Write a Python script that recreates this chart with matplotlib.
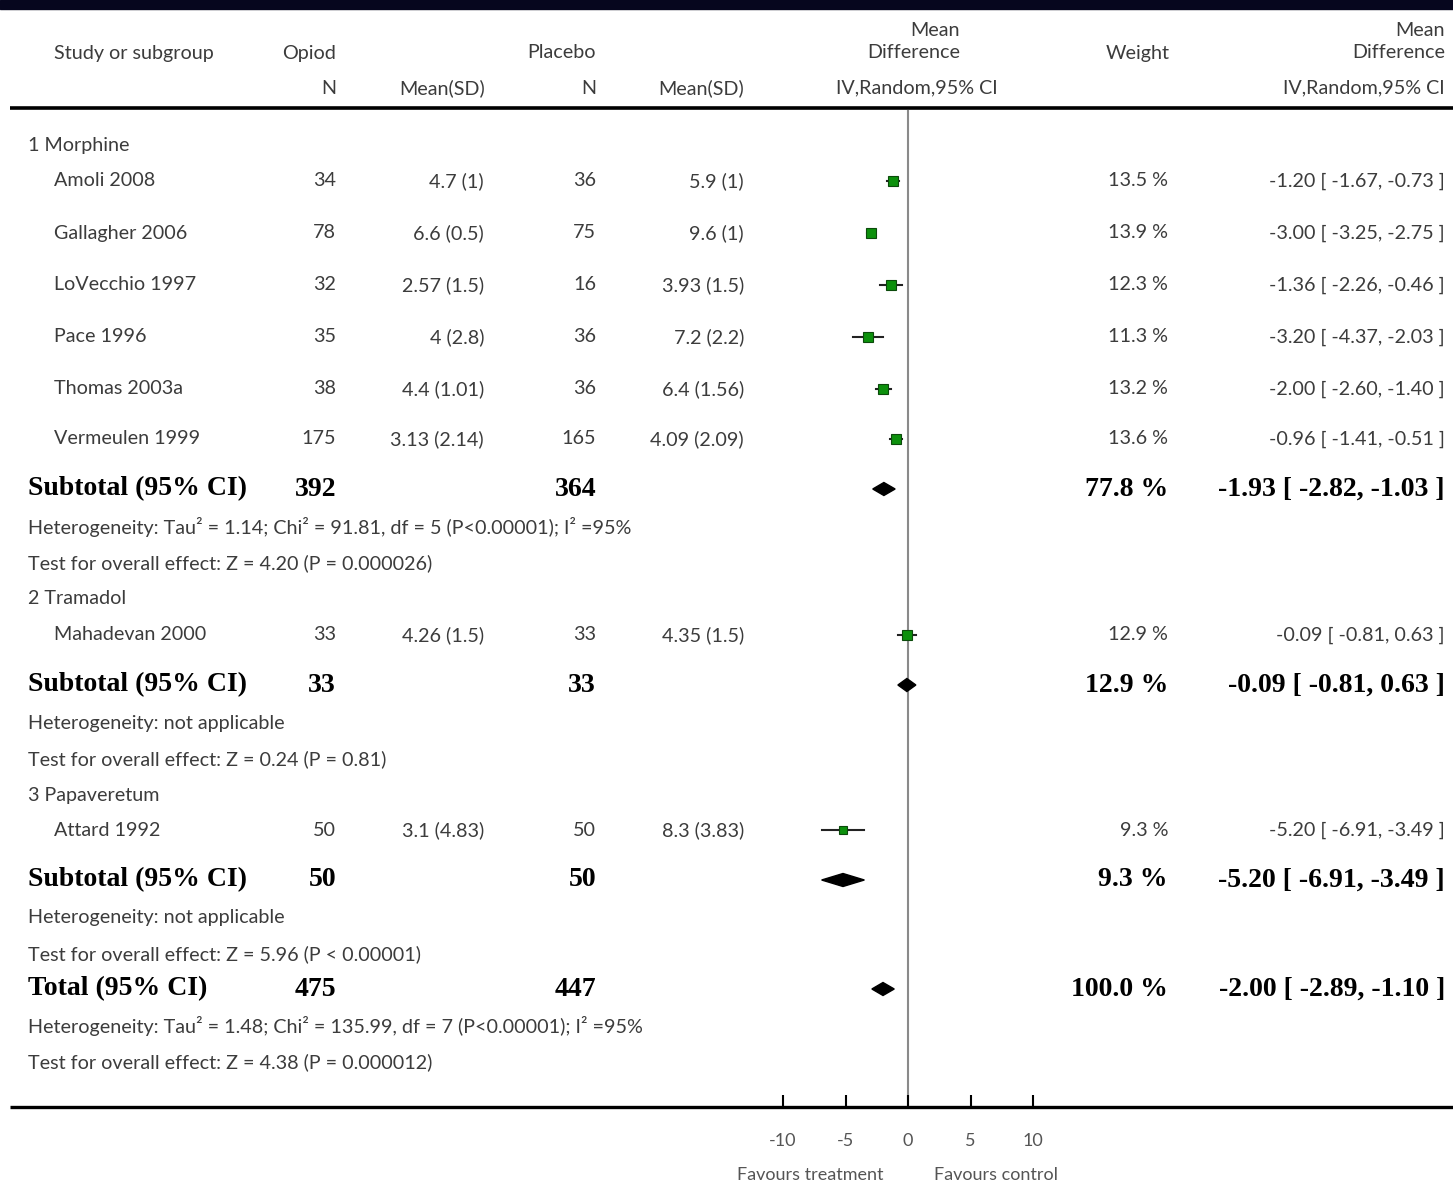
import matplotlib
matplotlib.use("Agg")
import matplotlib.pyplot as plt
from matplotlib.patches import Rectangle, Polygon
import numpy as np

# ---------------- data ----------------
groups = ["1 Morphine", "2 Tramadol", "3 Papaveretum"]
studies = ["Amoli 2008", "Gallagher 2006", "LoVecchio 1997", "Pace 1996",
           "Thomas 2003a", "Vermeulen 1999", "Mahadevan 2000", "Attard 1992"]
study_group = [0, 0, 0, 0, 0, 0, 1, 2]
opioid_n = [34, 78, 32, 35, 38, 175, 33, 50]
opioid_msd = ["4.7 (1)", "6.6 (0.5)", "2.57 (1.5)", "4 (2.8)", "4.4 (1.01)",
              "3.13 (2.14)", "4.26 (1.5)", "3.1 (4.83)"]
placebo_n = [36, 75, 16, 36, 36, 165, 33, 50]
placebo_msd = ["5.9 (1)", "9.6 (1)", "3.93 (1.5)", "7.2 (2.2)", "6.4 (1.56)",
               "4.09 (2.09)", "4.35 (1.5)", "8.3 (3.83)"]
md = [-1.20, -3.00, -1.36, -3.20, -2.00, -0.96, -0.09, -5.20]
ci_lo = [-1.67, -3.25, -2.26, -4.37, -2.60, -1.41, -0.81, -6.91]
ci_hi = [-0.73, -2.75, -0.46, -2.03, -1.40, -0.51, 0.63, -3.49]
weight = [13.5, 13.9, 12.3, 11.3, 13.2, 13.6, 12.9, 9.3]

sub_opioid_n = [392, 33, 50]
sub_placebo_n = [364, 33, 50]
sub_md = [-1.93, -0.09, -5.20]
sub_lo = [-2.82, -0.81, -6.91]
sub_hi = [-1.03, 0.63, -3.49]
sub_weight = [77.8, 12.9, 9.3]
sub_het = ["Heterogeneity: Tau² = 1.14; Chi² = 91.81, df = 5 (P<0.00001); I² =95%",
           "Heterogeneity: not applicable",
           "Heterogeneity: not applicable"]
sub_test = ["Test for overall effect: Z = 4.20 (P = 0.000026)",
            "Test for overall effect: Z = 0.24 (P = 0.81)",
            "Test for overall effect: Z = 5.96 (P < 0.00001)"]

tot_opioid_n = 475
tot_placebo_n = 447
tot_md, tot_lo, tot_hi = -2.00, -2.89, -1.10
tot_weight = 100.0
tot_het = "Heterogeneity: Tau² = 1.48; Chi² = 135.99, df = 7 (P<0.00001); I² =95%"
tot_test = "Test for overall effect: Z = 4.38 (P = 0.000012)"

xticks = [-10, -5, 0, 5, 10]
xtick_labels = ["-10", "-5", "0", "5", "10"]

# ---------------- layout (pixel rows) ----------------
W, H = 1453, 1184
group_y = [145, 599, 795]
study_y = [181, 233, 285, 337, 389, 439, 635, 830]
sub_y = [489, 685, 880]
het_y = [527, 723, 918]
test_y = [563, 759, 954]
total_y = 989
tot_het_y = 1026
tot_test_y = 1062
axis_y = 1107
head_y = 108

SANS = ["Lato", "DejaVu Sans"]
SERIF = ["Liberation Serif", "DejaVu Serif"]
TXT = "#3c3c3c"
fs = 14.2
bfs = 20

fig = plt.figure(figsize=(W / 100, H / 100), dpi=100)
bg = fig.add_axes([0, 0, 1, 1])
bg.set_xlim(0, W)
bg.set_ylim(H, 0)
bg.axis("off")


def t(x, y, s, ha="left", bold=False, **kw):
    if bold:
        bg.text(x, y, s, ha=ha, va="center", family=SERIF, fontweight="bold",
                fontsize=bfs, color="black", **kw)
    else:
        bg.text(x, y, s, ha=ha, va="center", family=SANS, fontsize=fs,
                color=TXT, **kw)


# top dark band
bg.add_patch(Rectangle((0, 0), W, 9, color="#06061e", zorder=5))

# header
t(54, 53, "Study or subgroup")
t(336, 53, "Opiod", ha="right")
t(596, 53, "Placebo", ha="right")
t(960, 31, "Mean", ha="right")
t(960, 53, "Difference", ha="right")
t(1170, 53, "Weight", ha="right")
t(1445, 31, "Mean", ha="right")
t(1445, 53, "Difference", ha="right")
t(336, 88, "N", ha="right")
t(485, 88, "Mean(SD)", ha="right")
t(596, 88, "N", ha="right")
t(744, 88, "Mean(SD)", ha="right")
t(998, 88, "IV,Random,95% CI", ha="right")
t(1445, 88, "IV,Random,95% CI", ha="right")
bg.plot([10, W], [head_y, head_y], color="black", lw=2.6, solid_capstyle="butt")
bg.plot([10, W], [axis_y, axis_y], color="black", lw=2.4, solid_capstyle="butt")

# forest axes
ax = fig.add_axes([783 / W, (H - axis_y) / H, 250 / W, (axis_y - head_y - 2) / H])
ax.set_xlim(-10, 10)
ax.set_ylim(axis_y, head_y + 2)
ax.patch.set_alpha(0)
for s in ax.spines.values():
    s.set_visible(False)
ax.set_yticks([])
ax.set_xticks(xticks)
ax.set_xticklabels(xtick_labels, family=SANS, fontsize=13, color="#555555")
ax.tick_params(axis="x", direction="in", length=9, width=1.5, pad=19,
               color="black")
ax.axvline(0, color="#8a8a8a", lw=1.5, zorder=1)


def fmt_ci(m, lo, hi):
    return f"{m:.2f} [ {lo:.2f}, {hi:.2f} ]"


for gi, g in enumerate(groups):
    t(28, group_y[gi], g)

for i, s in enumerate(studies):
    y = study_y[i]
    t(54, y, s)
    t(336, y, str(opioid_n[i]), ha="right")
    t(484, y, opioid_msd[i], ha="right")
    t(596, y, str(placebo_n[i]), ha="right")
    t(744, y, placebo_msd[i], ha="right")
    t(1168, y, f"{weight[i]:.1f} %", ha="right")
    t(1445, y, fmt_ci(md[i], ci_lo[i], ci_hi[i]), ha="right")
    ax.plot([ci_lo[i], ci_hi[i]], [y, y], color="#222222", lw=1.5, zorder=3)
    ms = 7.2 * np.sqrt(weight[i] / 13.5)
    ax.plot([md[i]], [y], marker="s", ms=ms, color="#0c900c",
            markeredgecolor="#0b4a0b", markeredgewidth=0.8, zorder=4)


def diamond(m, lo, hi, y, h=6.5):
    ax.add_patch(Polygon([(lo, y), (m, y - h), (hi, y), (m, y + h)],
                         closed=True, color="black", zorder=4))


for gi in range(len(groups)):
    y = sub_y[gi]
    t(28, y, "Subtotal (95% CI)", bold=True)
    t(336, y, str(sub_opioid_n[gi]), ha="right", bold=True)
    t(596, y, str(sub_placebo_n[gi]), ha="right", bold=True)
    t(1168, y, f"{sub_weight[gi]:.1f} %", ha="right", bold=True)
    t(1445, y, fmt_ci(sub_md[gi], sub_lo[gi], sub_hi[gi]), ha="right", bold=True)
    diamond(sub_md[gi], sub_lo[gi], sub_hi[gi], y)
    t(28, het_y[gi], sub_het[gi])
    t(28, test_y[gi], sub_test[gi])

t(28, total_y, "Total (95% CI)", bold=True)
t(336, total_y, str(tot_opioid_n), ha="right", bold=True)
t(596, total_y, str(tot_placebo_n), ha="right", bold=True)
t(1168, total_y, f"{tot_weight:.1f} %", ha="right", bold=True)
t(1445, total_y, fmt_ci(tot_md, tot_lo, tot_hi), ha="right", bold=True)
diamond(tot_md, tot_lo, tot_hi, total_y)
t(28, tot_het_y, tot_het)
t(28, tot_test_y, tot_test)

bg.text(810, 1175, "Favours treatment", ha="center", va="center", family=SANS,
        fontsize=13, color="#555555")
bg.text(996, 1175, "Favours control", ha="center", va="center", family=SANS,
        fontsize=13, color="#555555")

fig.savefig("out.png", dpi=100, facecolor="white")
